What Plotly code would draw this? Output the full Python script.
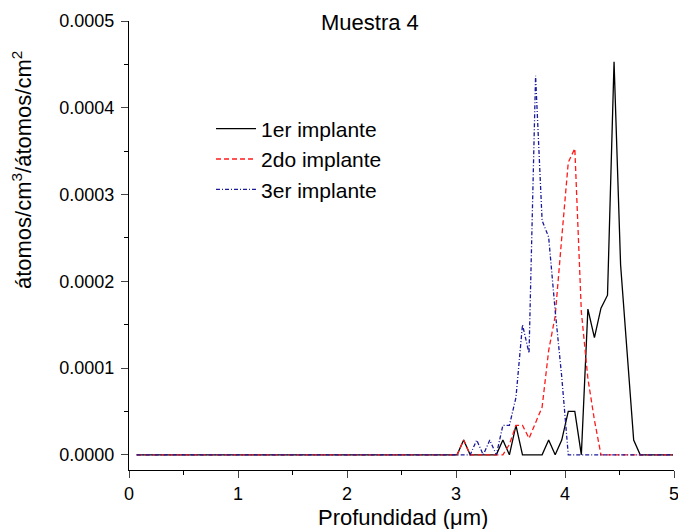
import plotly.graph_objects as go

# Data (depth in µm, concentration in átomos/cm3 / átomos/cm2)
x_1er = [0.07, 3.01, 3.07, 3.13, 3.37, 3.43, 3.49, 3.55, 3.61, 3.79, 3.85, 3.91, 3.97, 4.03, 4.09,
         4.15, 4.21, 4.27, 4.33, 4.39, 4.45, 4.51, 4.57, 4.63, 4.69, 4.99]
y_1er = [0, 0, 0.000017, 0, 0, 0.000017, 0, 0.000034, 0, 0, 0.000017, 0, 0.000017, 0.00005, 0.00005,
         0, 0.000168, 0.000135, 0.000169, 0.000184, 0.000453, 0.000219, 0.000118, 0.000017, 0, 0]

x_2do = [0.07, 3.01, 3.07, 3.13, 3.43, 3.49, 3.55, 3.61, 3.67, 3.73, 3.79, 3.85, 3.91, 3.97, 4.03,
         4.09, 4.15, 4.21, 4.27, 4.33, 4.99]
y_2do = [0, 0, 0.000017, 0, 0, 0.000012, 0.000034, 0.000034, 0.000019, 0.000038, 0.000055, 0.00012,
         0.00016, 0.00025, 0.000337, 0.000353, 0.000165, 0.000088, 0.00004, 0, 0]

x_3er = [0.07, 3.13, 3.19, 3.25, 3.31, 3.37, 3.43, 3.49, 3.55, 3.61, 3.67, 3.73, 3.79, 3.85, 3.91,
         3.97, 4.03, 4.99]
y_3er = [0, 0, 0.000017, 0, 0.000017, 0, 0.000034, 0.000034, 0.000066, 0.00015, 0.000117, 0.000437,
         0.00027, 0.000251, 0.000166, 0.00009, 0, 0]

series_names = ["1er implante", "2do implante", "3er implante"]
x_ticks = [0, 1, 2, 3, 4, 5]
y_ticks = [0.0, 0.0001, 0.0002, 0.0003, 0.0004, 0.0005]
y_tick_text = ["0.0000", "0.0001", "0.0002", "0.0003", "0.0004", "0.0005"]

FONT = "Liberation Sans, Arial, sans-serif"

fig = go.Figure()
fig.add_trace(go.Scatter(x=x_1er, y=y_1er, mode="lines", name=series_names[0],
                         line=dict(color="black", width=1.3)))
fig.add_trace(go.Scatter(x=x_2do, y=y_2do, mode="lines", name=series_names[1],
                         line=dict(color="#ff1a1a", width=1.3, dash="5px,3px")))
fig.add_trace(go.Scatter(x=x_3er, y=y_3er, mode="lines", name=series_names[2],
                         line=dict(color="#1a1a9a", width=1.3, dash="4px,2px,1px,2px")))

fig.update_layout(
    width=678, height=529,
    margin=dict(l=129, r=4, t=21, b=59, autoexpand=False),
    paper_bgcolor="white", plot_bgcolor="white",
    font=dict(family=FONT, size=18, color="black"),
    showlegend=True,
    legend=dict(x=0.1505, y=0.805, xanchor="left", yanchor="top",
                bgcolor="rgba(0,0,0,0)", font=dict(size=21, family=FONT),
                tracegroupgap=0, itemwidth=40),
)
fig.update_xaxes(
    range=[0, 5], tickvals=x_ticks, ticks="outside", ticklen=7, tickwidth=1.3,
    showline=True, linecolor="black", linewidth=1.3, showgrid=False, zeroline=False,
    minor=dict(dtick=0.5, ticks="outside", ticklen=4, tickwidth=1.3, tickcolor="black"),
    tickfont=dict(size=18), automargin=False, ticklabeloverflow="allow",
)
fig.update_yaxes(
    range=[-0.0000175, 0.0005], tickvals=y_ticks, ticktext=y_tick_text,
    ticks="outside", ticklen=7, tickwidth=1.3, ticklabelstandoff=3,
    showline=True, linecolor="black", linewidth=1.3, showgrid=False, zeroline=False,
    minor=dict(tickvals=[0.00005, 0.00015, 0.00025, 0.00035, 0.00045], ticks="outside",
               ticklen=4, tickwidth=1.3, tickcolor="black"),
    tickfont=dict(size=18), automargin=False, ticklabeloverflow="allow",
)
fig.add_annotation(text="Muestra 4", xref="paper", yref="paper", x=0.442, y=1.0,
                   yanchor="middle", yshift=-1, showarrow=False, font=dict(size=22, family=FONT))
fig.add_annotation(text="Profundidad (μm)", xref="paper", yref="paper", x=0.503, y=-0.1047,
                   xanchor="center", yanchor="middle", showarrow=False, font=dict(size=22, family=FONT))
fig.add_annotation(text="átomos/cm<sup>3</sup>/átomos/cm<sup>2</sup>", xref="paper", yref="paper",
                   x=-0.1963, y=0.668, xanchor="center", yanchor="middle", textangle=-90,
                   showarrow=False, font=dict(size=22, family=FONT))

fig.write_html("out.html", config={"displayModeBar": False},
               post_script="document.body.style.margin='0';document.body.style.overflow='hidden';")
